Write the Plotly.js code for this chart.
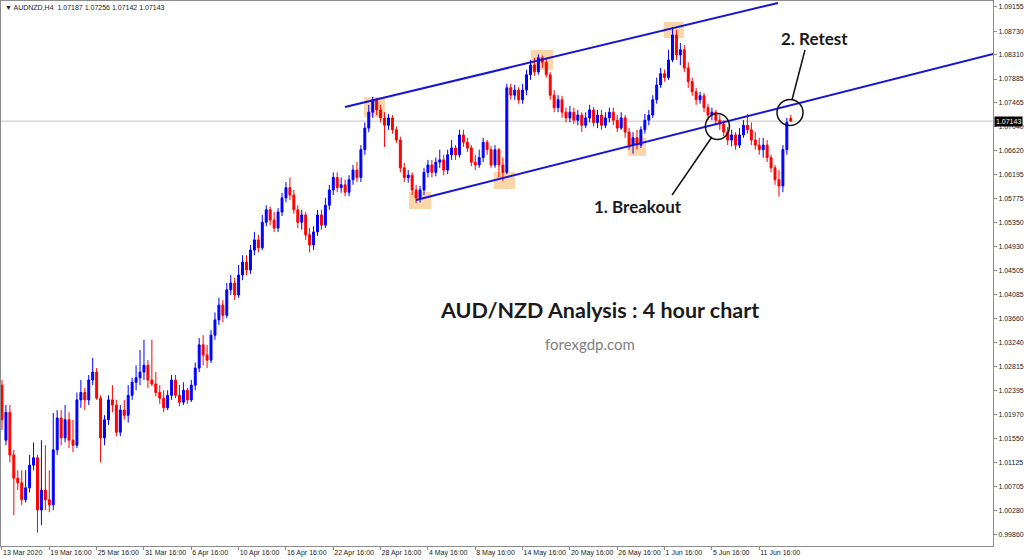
<!DOCTYPE html>
<html>
<head>
<meta charset="utf-8">
<script src="https://cdn.plot.ly/plotly-3.0.1.min.js"></script>
<style>html,body{margin:0;padding:0;background:#fff;}#chart{width:1024px;height:559px;}</style>
</head>
<body>
<div id="chart"></div>
<script>
// AUDNZD H4 candles (each mark = one 8-hour step)
const openP = [
1.0249,1.0152,1.0201,1.0126,1.0085,1.0077,1.0047,1.0068,1.0108,1.0121,
1.0029,1.0064,1.0047,1.0038,1.0135,1.0191,1.0156,1.0188,1.0152,1.0143,
1.0223,1.0236,1.0223,1.0258,1.0272,1.0226,1.0156,1.0188,1.0223,1.0214,
1.0166,1.0205,1.0196,1.0231,1.0254,1.0262,1.0272,1.0284,1.0258,1.0251,
1.0236,1.0226,1.0209,1.0231,1.0258,1.0231,1.0219,1.0240,1.0223,1.0249,
1.0279,1.0320,1.0302,1.0293,1.0337,1.0364,1.0390,1.0372,1.0417,1.0429,
1.0408,1.0443,1.0466,1.0452,1.0487,1.0505,1.0491,1.0536,1.0558,1.0540,
1.0526,1.0554,1.0579,1.0597,1.0584,1.0558,1.0536,1.0549,1.0514,1.0496,
1.0519,1.0549,1.0531,1.0566,1.0593,1.0615,1.0597,1.0602,1.0589,1.0611,
1.0628,1.0615,1.0664,1.0702,1.0730,1.0752,1.0734,1.0720,1.0707,1.0720,
1.0699,1.0681,1.0632,1.0615,1.0619,1.0593,1.0579,1.0593,1.0624,1.0637,
1.0624,1.0642,1.0646,1.0628,1.0655,1.0667,1.0655,1.0690,1.0677,1.0667,
1.0642,1.0637,1.0650,1.0677,1.0664,1.0637,1.0664,1.0637,1.0624,1.0773,
1.0760,1.0769,1.0752,1.0769,1.0796,1.0813,1.0801,1.0826,1.0818,1.0796,
1.0760,1.0738,1.0752,1.0730,1.0720,1.0730,1.0716,1.0725,1.0707,1.0720,
1.0734,1.0712,1.0725,1.0707,1.0720,1.0730,1.0716,1.0702,1.0720,1.0695,
1.0672,1.0685,1.0672,1.0699,1.0716,1.0725,1.0752,1.0778,1.0798,1.0791,
1.0822,1.0866,1.0831,1.0840,1.0808,1.0784,1.0766,1.0752,1.0759,1.0738,
1.0725,1.0730,1.0716,1.0709,1.0695,1.0681,1.0690,1.0672,1.0690,1.0707,
1.0699,1.0681,1.0672,1.0664,1.0672,1.0650,1.0632,1.0611,1.0600,1.0664,
1.07187];
const highP = [
1.0258,1.0214,1.0214,1.0135,1.0099,1.0099,1.0099,1.0126,1.0148,1.0126,
1.0152,1.0143,1.0099,1.0200,1.0205,1.0205,1.0214,1.0201,1.0188,1.0236,
1.0258,1.0244,1.0267,1.0297,1.0279,1.0231,1.0196,1.0231,1.0249,1.0223,
1.0214,1.0223,1.0249,1.0262,1.0284,1.0311,1.0329,1.0293,1.0329,1.0272,
1.0249,1.0240,1.0240,1.0267,1.0267,1.0249,1.0254,1.0244,1.0258,1.0289,
1.0332,1.0337,1.0320,1.0346,1.0377,1.0403,1.0399,1.0429,1.0443,1.0438,
1.0461,1.0478,1.0478,1.0496,1.0519,1.0514,1.0549,1.0566,1.0564,1.0554,
1.0561,1.0588,1.0607,1.0615,1.0593,1.0566,1.0558,1.0554,1.0526,1.0529,
1.0558,1.0558,1.0579,1.0602,1.0624,1.0624,1.0615,1.0611,1.0619,1.0637,
1.0642,1.0672,1.0712,1.0743,1.0757,1.0755,1.0743,1.0730,1.0727,1.0725,
1.0705,1.0687,1.0641,1.0628,1.0624,1.0602,1.0600,1.0632,1.0646,1.0646,
1.0650,1.0664,1.0655,1.0664,1.0681,1.0672,1.0699,1.0699,1.0685,1.0672,
1.0655,1.0664,1.0685,1.0681,1.0670,1.0672,1.0667,1.0650,1.0780,1.0780,
1.0778,1.0774,1.0780,1.0805,1.0822,1.0826,1.0832,1.0830,1.0826,1.0801,
1.0769,1.0760,1.0759,1.0738,1.0741,1.0738,1.0734,1.0730,1.0730,1.0743,
1.0739,1.0734,1.0734,1.0730,1.0738,1.0738,1.0725,1.0730,1.0725,1.0702,
1.0695,1.0699,1.0705,1.0727,1.0734,1.0760,1.0791,1.0808,1.0805,1.0840,
1.0880,1.0875,1.0852,1.0848,1.0818,1.0791,1.0773,1.0766,1.0764,1.0745,
1.0738,1.0734,1.0725,1.0716,1.0704,1.0699,1.0695,1.0702,1.0716,1.0727,
1.0712,1.0695,1.0685,1.0685,1.0681,1.0655,1.0637,1.0628,1.0672,1.0720,
1.07256];
const lowP = [
1.0170,1.0143,1.0113,1.0020,1.0064,1.0038,1.0042,1.0060,1.0099,0.9989,
1.0002,1.0029,1.0025,1.0029,1.0126,1.0143,1.0148,1.0138,1.0131,1.0138,
1.0209,1.0205,1.0214,1.0249,1.0223,1.0113,1.0143,1.0179,1.0201,1.0159,
1.0159,1.0188,1.0183,1.0223,1.0240,1.0249,1.0258,1.0244,1.0247,1.0229,
1.0216,1.0201,1.0205,1.0223,1.0226,1.0212,1.0214,1.0216,1.0219,1.0240,
1.0272,1.0284,1.0279,1.0288,1.0329,1.0355,1.0360,1.0367,1.0408,1.0399,
1.0403,1.0434,1.0443,1.0445,1.0478,1.0483,1.0487,1.0529,1.0531,1.0519,
1.0519,1.0547,1.0571,1.0575,1.0551,1.0526,1.0523,1.0505,1.0483,1.0487,
1.0512,1.0523,1.0526,1.0558,1.0584,1.0589,1.0588,1.0582,1.0582,1.0602,
1.0607,1.0607,1.0655,1.0695,1.0720,1.0725,1.0712,1.0669,1.0699,1.0692,
1.0676,1.0624,1.0607,1.0606,1.0584,1.0570,1.0571,1.0584,1.0615,1.0615,
1.0617,1.0632,1.0619,1.0621,1.0646,1.0646,1.0650,1.0669,1.0660,1.0635,
1.0628,1.0632,1.0642,1.0655,1.0632,1.0632,1.0615,1.0609,1.0621,1.0752,
1.0752,1.0745,1.0745,1.0760,1.0787,1.0794,1.0796,1.0808,1.0791,1.0752,
1.0730,1.0730,1.0720,1.0712,1.0712,1.0709,1.0707,1.0695,1.0702,1.0712,
1.0705,1.0702,1.0699,1.0702,1.0712,1.0707,1.0695,1.0699,1.0685,1.0664,
1.0657,1.0664,1.0667,1.0692,1.0707,1.0720,1.0745,1.0773,1.0784,1.0787,
1.0818,1.0822,1.0813,1.0801,1.0773,1.0759,1.0743,1.0745,1.0730,1.0716,
1.0716,1.0707,1.0699,1.0688,1.0672,1.0670,1.0664,1.0667,1.0685,1.0692,
1.0672,1.0664,1.0655,1.0650,1.0642,1.0624,1.0602,1.0581,1.0589,1.0655,
1.07142];
const closeP = [
1.0188,1.0201,1.0126,1.0085,1.0077,1.0047,1.0068,1.0108,1.0121,1.0029,
1.0064,1.0047,1.0038,1.0135,1.0191,1.0156,1.0188,1.0152,1.0143,1.0223,
1.0236,1.0223,1.0258,1.0272,1.0226,1.0156,1.0188,1.0223,1.0214,1.0166,
1.0205,1.0196,1.0231,1.0254,1.0262,1.0272,1.0284,1.0258,1.0251,1.0236,
1.0226,1.0209,1.0231,1.0258,1.0231,1.0219,1.0240,1.0223,1.0249,1.0279,
1.0320,1.0302,1.0293,1.0337,1.0364,1.0390,1.0372,1.0417,1.0429,1.0408,
1.0443,1.0466,1.0452,1.0487,1.0505,1.0491,1.0536,1.0558,1.0540,1.0526,
1.0554,1.0579,1.0597,1.0584,1.0558,1.0536,1.0549,1.0514,1.0496,1.0519,
1.0549,1.0531,1.0566,1.0593,1.0615,1.0597,1.0602,1.0589,1.0611,1.0628,
1.0615,1.0664,1.0702,1.0730,1.0752,1.0734,1.0720,1.0707,1.0720,1.0699,
1.0681,1.0632,1.0615,1.0619,1.0593,1.0579,1.0593,1.0624,1.0637,1.0624,
1.0642,1.0646,1.0628,1.0655,1.0667,1.0655,1.0690,1.0677,1.0667,1.0642,
1.0637,1.0650,1.0677,1.0664,1.0637,1.0664,1.0637,1.0624,1.0773,1.0760,
1.0769,1.0752,1.0769,1.0796,1.0813,1.0801,1.0826,1.0818,1.0796,1.0760,
1.0738,1.0752,1.0730,1.0720,1.0730,1.0716,1.0725,1.0707,1.0720,1.0734,
1.0712,1.0725,1.0707,1.0720,1.0730,1.0716,1.0702,1.0720,1.0695,1.0672,
1.0685,1.0672,1.0699,1.0716,1.0725,1.0752,1.0778,1.0798,1.0791,1.0822,
1.0866,1.0831,1.0840,1.0808,1.0784,1.0766,1.0752,1.0759,1.0738,1.0725,
1.0730,1.0716,1.0709,1.0695,1.0681,1.0690,1.0672,1.0690,1.0707,1.0699,
1.0681,1.0672,1.0664,1.0672,1.0650,1.0632,1.0611,1.0600,1.0664,1.0712,
1.07143];

// axis ticks
const xTickIdx = [0,12,24,36,48,60,72,84,96,108,120,132,144,156,168,180,192];
const xTickText = ["13 Mar 2020","19 Mar 16:00","25 Mar 16:00","31 Mar 16:00","6 Apr 16:00","10 Apr 16:00","16 Apr 16:00","22 Apr 16:00","28 Apr 16:00","4 May 16:00","8 May 16:00","14 May 16:00","20 May 16:00","26 May 16:00","1 Jun 16:00","5 Jun 16:00","11 Jun 16:00"];
const yTickVals = [1.09155,1.08730,1.08310,1.07885,1.07465,1.07040,1.06620,1.06195,1.05775,1.05350,1.04930,1.04505,1.04085,1.03660,1.03240,1.02815,1.02395,1.01970,1.01550,1.01125,1.00705,1.00280,0.99860];
const lastPrice = 1.07143;
const headerText = "▼ AUDNZD,H4  1.07187 1.07256 1.07142 1.07143";

// channel lines [x0, y0, x1, y1] in bar index / price
const upperChannel = [86.97, 1.07392, 196.75, 1.09225];
const lowerChannel = [104.97, 1.05753, 251.3, 1.08327];
// highlighted swing points [x0, x1, yLow, yHigh]
const swingBoxes = [
  [91.8, 97.1, 1.07216, 1.07568],
  [103.2, 108.8, 1.05594, 1.05894],
  [124.7, 130.1, 1.05947, 1.06246],
  [134.1, 139.7, 1.08044, 1.08397],
  [158.7, 163.3, 1.06529, 1.06846],
  [167.8, 172.9, 1.08608, 1.08890]
];
const breakoutPt = [181.4, 1.07048];
const retestPt = [199.8, 1.07295];

const xIdx = closeP.map((_, i) => i);

const trace = {
  type: 'candlestick',
  x: xIdx, open: openP, high: highP, low: lowP, close: closeP,
  increasing: {line: {color: '#0000ff', width: 1}, fillcolor: '#0000ff'},
  decreasing: {line: {color: '#ff0000', width: 1}, fillcolor: '#ff0000'},
  whiskerwidth: 0,
  hoverinfo: 'skip',
  showlegend: false
};

const shapes = [];
swingBoxes.forEach(b => shapes.push({type:'rect', xref:'x', yref:'y', x0:b[0], x1:b[1], y0:b[2], y1:b[3],
  fillcolor:'rgba(250,200,140,0.75)', line:{width:0}, layer:'below'}));
shapes.push({type:'line', xref:'paper', yref:'y', x0:0, x1:1, y0:lastPrice, y1:lastPrice, line:{color:'#c4c4c4', width:1}, layer:'below'});
shapes.push({type:'line', xref:'x', yref:'y', x0:upperChannel[0], y0:upperChannel[1], x1:upperChannel[2], y1:upperChannel[3], line:{color:'#1515d8', width:2}});
shapes.push({type:'line', xref:'x', yref:'y', x0:lowerChannel[0], y0:lowerChannel[1], x1:lowerChannel[2], y1:lowerChannel[3], line:{color:'#1515d8', width:2}});
shapes.push({type:'circle', xref:'x', yref:'y', xsizemode:'pixel', ysizemode:'pixel', xanchor:breakoutPt[0], yanchor:breakoutPt[1], x0:-12, x1:12, y0:-13, y1:13, line:{color:'#111', width:1.5}});
shapes.push({type:'circle', xref:'x', yref:'y', xsizemode:'pixel', ysizemode:'pixel', xanchor:retestPt[0], yanchor:retestPt[1], x0:-13, x1:13, y0:-13, y1:13, line:{color:'#111', width:1.5}});
shapes.push({type:'line', xref:'x', yref:'y', x0:180.0, y0:1.06863, x1:169.9, y1:1.05841, line:{color:'#111', width:1.5}});
shapes.push({type:'line', xref:'x', yref:'y', x0:200.3, y0:1.07516, x1:203.6, y1:1.08397, line:{color:'#111', width:1.5}});

const boldFont = {family:'Lato, "Open Sans", sans-serif', color:'#1a1a1a'};
const annotations = [
  {xref:'paper', yref:'paper', x:0.002, y:0.998, xanchor:'left', yanchor:'top', showarrow:false, text:headerText,
   font:{family:'"Liberation Sans", Arial, sans-serif', size:7, color:'#222'}},
  {xref:'paper', yref:'y', x:1, y:lastPrice, xanchor:'left', xshift:1, showarrow:false, text:'1.07143',
   bgcolor:'#000', borderpad:1, font:{family:'"Liberation Sans", Arial, sans-serif', size:7, color:'#fff'}},
  {xref:'x', yref:'y', x:151.4, y:1.03814, showarrow:false, text:'<b>AUD/NZD Analysis : 4 hour chart</b>',
   font:Object.assign({size:21.5}, boldFont)},
  {xref:'x', yref:'y', x:149.1, y:1.03215, showarrow:false, text:'forexgdp.com',
   font:{family:'Lato, "Open Sans", sans-serif', size:15, color:'#808080'}},
  {xref:'x', yref:'y', x:161.3, y:1.05630, showarrow:false, text:'<b>1. Breakout</b>',
   font:Object.assign({size:17}, boldFont)},
  {xref:'x', yref:'y', x:205.9, y:1.08608, showarrow:false, text:'<b>2. Retest</b>',
   font:Object.assign({size:17}, boldFont)}
];

const layout = {
  width:1024, height:559,
  margin:{l:1, r:31, t:1, b:13, pad:0},
  paper_bgcolor:'#fff', plot_bgcolor:'#fff',
  showlegend:false,
  xaxis:{
    type:'linear', range:[-0.25, 251.27], rangeslider:{visible:false},
    showgrid:false, zeroline:false, showline:true, mirror:true, linecolor:'#8c8c8c', linewidth:1,
    tickmode:'array', tickvals:xTickIdx, ticktext:xTickText, ticks:'outside', ticklen:3, tickcolor:'#8c8c8c',
    ticklabelposition:'outside right', tickangle:0, automargin:false, ticklabelstandoff:0,
    tickfont:{family:'"Liberation Sans", Arial, sans-serif', size:7, color:'#222'}, fixedrange:true
  },
  yaxis:{
    side:'right', range:[0.99655, 1.0926], automargin:false,
    showgrid:false, zeroline:false, showline:true, mirror:true, linecolor:'#8c8c8c', linewidth:1,
    tickmode:'array', tickvals:yTickVals, ticktext:yTickVals.map(v => v.toFixed(5)), ticks:'outside', ticklen:3, tickcolor:'#8c8c8c',
    tickfont:{family:'"Liberation Sans", Arial, sans-serif', size:7, color:'#222'}, fixedrange:true
  },
  shapes:shapes,
  annotations:annotations
};

Plotly.newPlot('chart', [trace], layout, {staticPlot:true, displayModeBar:false});
</script>
</body>
</html>
